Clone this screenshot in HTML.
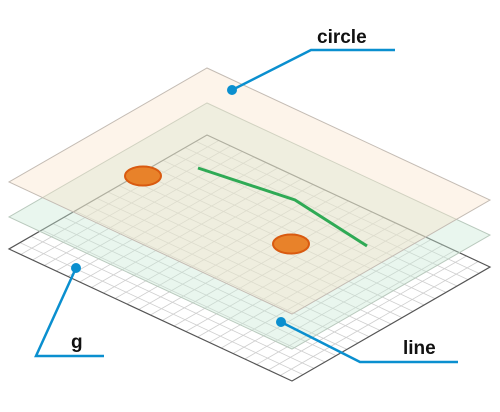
<!DOCTYPE html>
<html><head><meta charset="utf-8"><style>
html,body{margin:0;padding:0;background:#fff;}
svg{display:block;}
text{font-family:"Liberation Sans",sans-serif;font-weight:bold;font-size:19px;fill:#111;}
</style></head><body>
<svg id="s" width="500" height="412" viewBox="0 0 500 412">
<g id="gridLayer"></g>
<polygon id="lineLayer" fill="rgba(200,232,212,0.4)" stroke="#b9c9bd" stroke-width="1"/>
<polygon id="circleLayer" fill="rgba(250,226,200,0.38)" stroke="#c4bcb4" stroke-width="1"/>
<polyline points="198,168 295,200 367,246" fill="none" stroke="#2faa55" stroke-width="3"/>
<ellipse cx="143" cy="176" rx="18" ry="9.5" fill="#e8822a" stroke="#d95a10" stroke-width="2"/>
<ellipse cx="291" cy="244" rx="18" ry="9.5" fill="#e8822a" stroke="#d95a10" stroke-width="2"/>
<g>
<polyline points="232,90 311,50 395,50" fill="none" stroke="#0a8fcf" stroke-width="2.5"/>
<circle cx="232" cy="90" r="5" fill="#0a8fcf"/>
<text x="317" y="43">circle</text>
</g>
<g>
<polyline points="281,322 360,362 458,362" fill="none" stroke="#0a8fcf" stroke-width="2.5"/>
<circle cx="281" cy="322" r="5" fill="#0a8fcf"/>
<text x="403" y="354">line</text>
</g>
<g>
<polyline points="76,268 36,356 104,356" fill="none" stroke="#0a8fcf" stroke-width="2.5"/>
<circle cx="76" cy="268" r="5" fill="#0a8fcf"/>
<text x="71" y="348">g</text>
</g>
</svg>
<script>
const NS="http://www.w3.org/2000/svg";
const T=[207,135], L=[-198,114], R=[283,132];
function P(a,b,dy){return [T[0]+L[0]*a+R[0]*b, T[1]+L[1]*a+R[1]*b-dy];}
function poly(dy){return [P(0,0,dy),P(0,1,dy),P(1,1,dy),P(1,0,dy)].map(p=>p.join(',')).join(' ');}
document.getElementById('lineLayer').setAttribute('points',poly(32));
document.getElementById('circleLayer').setAttribute('points',poly(67));
const g=document.getElementById('gridLayer');
const NA=18, NB=24;
for(let i=1;i<NA;i++){const a=P(i/NA,0,0),b=P(i/NA,1,0);const l=document.createElementNS(NS,'line');


l.setAttribute('x1',a[0]);l.setAttribute('y1',a[1]);l.setAttribute('x2',b[0]);l.setAttribute('y2',b[1]);l.setAttribute('stroke','#cfcfcf');l.setAttribute('stroke-width','0.8');g.appendChild(l);}
for(let i=1;i<NB;i++){const a=P(0,i/NB,0),b=P(1,i/NB,0);const l=document.createElementNS(NS,'line');


l.setAttribute('x1',a[0]);l.setAttribute('y1',a[1]);l.setAttribute('x2',b[0]);l.setAttribute('y2',b[1]);l.setAttribute('stroke','#cfcfcf');l.setAttribute('stroke-width','0.8');g.appendChild(l);}
const o=document.createElementNS(NS,'polygon');


o.setAttribute('points',poly(0));o.setAttribute('fill','none');o.setAttribute('stroke','#555');o.setAttribute('stroke-width','1.2');g.appendChild(o);
</script>
</body></html>
